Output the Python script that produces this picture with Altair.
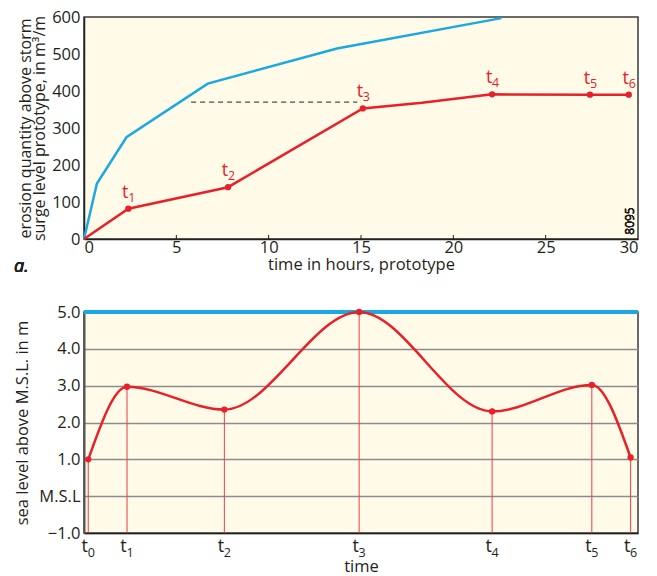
import altair as alt
import pandas as pd

FONT = "Open Sans"
RED = "#E8202A"
BLUE = "#1AA9E0"
INK = "#231F20"

# ---- top panel data (erosion vs time) ----
blue_t = [0, 0.7, 2.3, 6.7, 13.7, 22.6]
blue_q = [0, 150, 275, 420, 515, 597]
red_t = [0, 2.4, 7.8, 15.1, 18.3, 22.1, 27.4, 29.5]
red_q = [0, 82, 140, 353, 368, 391, 390, 390]
mark_t = [2.4, 7.8, 15.1, 22.1, 27.4, 29.5]
mark_q = [82, 140, 353, 391, 390, 390]
mark_sub = ["1", "2", "3", "4", "5", "6"]
dash_t = [5.8, 14.8]
dash_q = [370, 370]
x_ticks_top = [5, 10, 15, 20, 25]
x_vals_top = [0, 5, 10, 15, 20, 25, 30]
y_vals_top = [0, 100, 200, 300, 400, 500, 600]

# ---- bottom panel data (sea level vs time) ----
sea_t = [0.23, 2.33, 7.6, 14.9, 22.1, 27.5, 29.6]
sea_h = [1.0, 2.97, 2.35, 5.0, 2.3, 3.02, 1.05]
sea_sub = ["0", "1", "2", "3", "4", "5", "6"]
y_vals_bot = [-1, 0, 1, 2, 3, 4, 5]

W, H1, H2 = 554, 222, 221
LBL = 16.5

blue_df = pd.DataFrame({"t": blue_t, "q": blue_q})
red_df = pd.DataFrame({"t": red_t, "q": red_q})
mark_df = pd.DataFrame({"t": mark_t, "q": mark_q, "sub": mark_sub})
dash_df = pd.DataFrame({"t": dash_t, "q": dash_q})
tick_df = pd.DataFrame({"t": x_ticks_top})

xs_top = alt.Scale(domain=[0, 30], nice=False)
ys_top = alt.Scale(domain=[0, 600], nice=False)

x_top = alt.X("t:Q", scale=xs_top, axis=alt.Axis(
    values=x_vals_top, tickCount=20, ticks=False, grid=False, labelOverlap=False,
    title="time in hours, prototype", labelPadding=0, titlePadding=1,
    domainColor=INK, domainWidth=1.5))
y_top = alt.Y("q:Q", scale=ys_top, axis=alt.Axis(
    values=y_vals_top, tickCount=20, ticks=False, grid=False, labelOverlap=False,
    title=["erosion quantity above storm", "surge level prototype, in m³/m"],
    titleFontSize=16, titleLineHeight=14.5, labelPadding=4, titlePadding=4,
    domainColor=INK, domainWidth=1.5))

blue_line = alt.Chart(blue_df).mark_line(color=BLUE, strokeWidth=2.5).encode(x=x_top, y=y_top)
red_line = alt.Chart(red_df).mark_line(color=RED, strokeWidth=2.5).encode(x="t:Q", y="q:Q")
red_pts = alt.Chart(mark_df).mark_circle(color=RED, size=40, opacity=1).encode(x="t:Q", y="q:Q")
red_t_txt = alt.Chart(mark_df).mark_text(
    text="t", color=RED, fontSize=18, font=FONT, dy=-16, dx=-3, baseline="middle").encode(
    x="t:Q", y="q:Q")
red_sub_txt = alt.Chart(mark_df).mark_text(
    color=RED, fontSize=12.5, font=FONT, dy=-11, dx=3.5, baseline="middle").encode(
    x="t:Q", y="q:Q", text="sub:N")
dash = alt.Chart(dash_df).mark_line(color=INK, strokeWidth=1, strokeDash=[5, 4]).encode(x="t:Q", y="q:Q")
ticks = alt.Chart(tick_df).mark_rule(color=INK, strokeWidth=1).encode(
    x="t:Q", y=alt.value(H1), y2=alt.value(H1 - 4))
code_txt = alt.Chart(tick_df).mark_text(
    text="8095", angle=270, fontSize=12, font=FONT, color=INK, align="center", baseline="middle"
).encode(x=alt.value(W - 8), y=alt.value(H1 - 18))
a_txt = alt.Chart(tick_df).mark_text(
    text="a.", fontSize=18, font=FONT, fontStyle="italic", fontWeight="normal", color=INK,
    align="left", baseline="middle"
).encode(x=alt.value(-70), y=alt.value(H1 + 28))

top = alt.layer(dash, blue_line, red_line, red_pts, red_t_txt, red_sub_txt, ticks, code_txt, a_txt
                ).properties(width=W, height=H1)

# ---- bottom panel ----
sea_df = pd.DataFrame({"t": sea_t, "h": sea_h, "sub": sea_sub})

xs_bot = alt.Scale(domain=[0, 30], nice=False)
ys_bot = alt.Scale(domain=[-1, 5], nice=False)

x_bot = alt.X("t:Q", scale=xs_bot, axis=alt.Axis(
    values=sea_t, tickCount=20, labels=False, ticks=False, grid=False, title="time",
    titlePadding=25, domainColor=INK, domainWidth=1.5))
y_bot = alt.Y("h:Q", scale=ys_bot, axis=alt.Axis(
    values=y_vals_bot, tickCount=20,
    labelExpr="datum.value == 0 ? 'M.S.L' : format(datum.value, '.1f')",
    ticks=False, grid=True, gridColor="#8C8C8C", gridWidth=1.5, labelOverlap=False,
    title="sea level above M.S.L. in m", labelPadding=4, titlePadding=8,
    domainColor="#555555", domainWidth=2))

vrules = alt.Chart(sea_df).mark_rule(color="#EE3B45", strokeWidth=1).encode(
    x=x_bot, y=y_bot, y2=alt.datum(-1))
blue_top = alt.Chart(sea_df).mark_rule(color=BLUE, strokeWidth=3.5).encode(
    y=alt.datum(5), x=alt.value(0), x2=alt.value(W))
curve = alt.Chart(sea_df).mark_line(color=RED, strokeWidth=2.5, interpolate="monotone").encode(
    x="t:Q", y="h:Q")
sea_pts = alt.Chart(sea_df).mark_circle(color=RED, size=40, opacity=1).encode(x="t:Q", y="h:Q")
t_lbl = alt.Chart(sea_df).mark_text(
    text="t", color=INK, fontSize=18, font=FONT, dx=-3.5, baseline="middle").encode(
    x="t:Q", y=alt.value(H2 + 14))
t_sub = alt.Chart(sea_df).mark_text(
    color=INK, fontSize=12.5, font=FONT, dx=3, baseline="middle").encode(
    x="t:Q", y=alt.value(H2 + 20), text="sub:N")

bottom = alt.layer(vrules, blue_top, curve, sea_pts, t_lbl, t_sub).properties(width=W, height=H2)

chart = alt.vconcat(top, bottom, spacing=26).properties(
    padding={"left": 5, "top": 0, "right": 5, "bottom": 2}
).configure_view(
    fill="#FFFBE8", stroke="#3A3A3A", strokeWidth=1.5
).configure_axis(
    labelFont=FONT, titleFont=FONT, labelFontSize=LBL, titleFontSize=16.5,
    labelColor=INK, titleColor=INK, titleFontWeight="normal"
)

chart.save("out.html", embed_options={"renderer": "svg", "actions": False})
